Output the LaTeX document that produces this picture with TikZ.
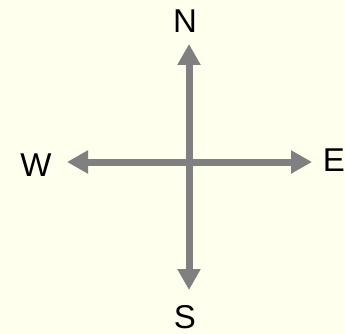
\documentclass[tikz,border=0pt]{standalone}
\usepackage{fontspec}
\setmainfont{Liberation Sans}
\usetikzlibrary{arrows.meta}
\definecolor{bg}{RGB}{255,255,238}
\definecolor{arrgray}{RGB}{128,128,128}
\begin{document}
\begin{tikzpicture}[x=1pt,y=-1pt,
  arr/.style={draw=arrgray,line width=7pt,-{Triangle[length=21pt,width=22pt]}},
  lbl/.style={font=\fontsize{33}{38}\selectfont,inner sep=0pt,text=black}]
\fill[bg] (0,0) rectangle (345,334);
\useasboundingbox (0,0) rectangle (345,334);
\coordinate (c) at (189,162);
\coordinate (nt) at (189,44);
\coordinate (st) at (189,290);
\coordinate (wt) at (67,162);
\coordinate (et) at (312,162);
\node[lbl] (N) at (185,21) {N};
\node[lbl] (S) at (185,317) {S};
\node[lbl] (W) at (36,165) {W};
\node[lbl] (E) at (334,160) {E};
\draw[arr] (c) -- (nt);
\draw[arr] (c) -- (st);
\draw[arr] (c) -- (wt);
\draw[arr] (c) -- (et);
\end{tikzpicture}
\end{document}
